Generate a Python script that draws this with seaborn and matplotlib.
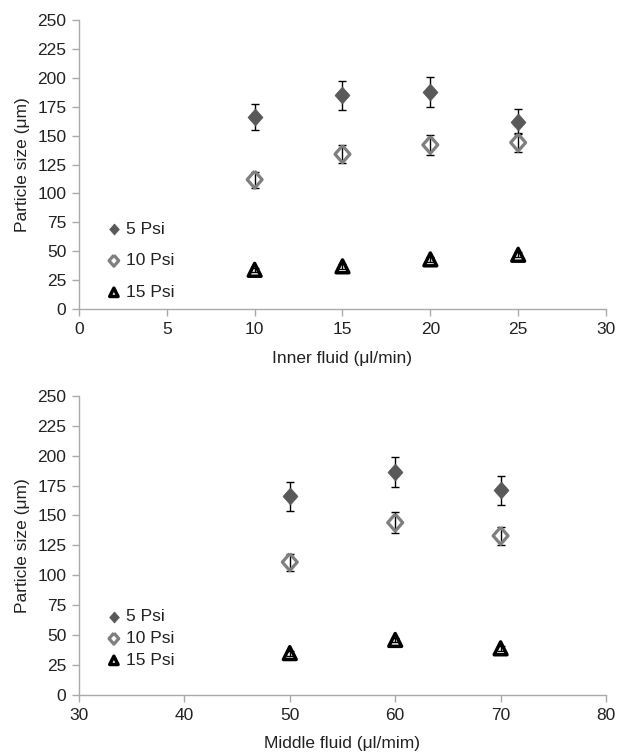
import matplotlib
matplotlib.use("Agg")
import matplotlib.pyplot as plt
import seaborn as sns
import numpy as np
import pandas as pd

# ---------------- data ----------------
inner_x = [10, 15, 20, 25]
inner_5psi = [166, 185, 188, 162]
inner_5psi_err = [11, 12.5, 13, 11]
inner_10psi = [112, 134, 142, 144]
inner_10psi_err = [7, 8, 8.5, 8]
inner_15psi = [34, 37, 43, 47]
inner_15psi_err = [2, 2, 2, 2]

middle_x = [50, 60, 70]
middle_5psi = [166, 186, 171]
middle_5psi_err = [12, 12.5, 12]
middle_10psi = [111, 144, 133]
middle_10psi_err = [7, 8.5, 7.5]
middle_15psi = [35, 46, 39]
middle_15psi_err = [2, 2, 2]

series_labels = ["5 Psi", "10 Psi", "15 Psi"]
y_ticks = [0, 25, 50, 75, 100, 125, 150, 175, 200, 225, 250]
top_xticks = [0, 5, 10, 15, 20, 25, 30]
bottom_xticks = [30, 40, 50, 60, 70, 80]

sns.set_theme(style="white")
plt.rcParams["font.family"] = ["Liberation Sans", "DejaVu Sans"]

fig = plt.figure(figsize=(6.19, 7.54), dpi=100)
ax1 = fig.add_axes([0.1276, 0.590, 0.8514, 0.3835])
ax2 = fig.add_axes([0.1276, 0.0782, 0.8514, 0.3970])

diamond = [(0, 1), (0.88, 0), (0, -1), (-0.88, 0), (0, 1)]

styles = [
    dict(marker=diamond, s=150, color="#595959", edgecolor="#595959", linewidth=0.5),
    dict(marker=diamond, s=150, facecolor="none", edgecolor="#7f7f7f", linewidth=2.3),
    dict(marker="^", s=85, facecolor="none", edgecolor="black", linewidth=2.5),
]

def draw(ax, xs, ys_list, errs_list, xticks, xlabel, labelspacing, legend_anchor):
    for lab, ys, errs, st in zip(series_labels, ys_list, errs_list, styles):
        df = pd.DataFrame({"x": xs, "y": ys})
        ax.errorbar(xs, ys, yerr=errs, fmt="none", ecolor="black",
                    elinewidth=1.0, capsize=3, capthick=1.0, zorder=2)
        sns.scatterplot(data=df, x="x", y="y", ax=ax, label=lab, zorder=3, **st)
    ax.set_xlim(xticks[0], xticks[-1])
    ax.set_ylim(0, 250)
    ax.set_xticks(xticks)
    ax.set_yticks(y_ticks)
    ax.set_xlabel(xlabel, fontsize=12.5, color="#222222", labelpad=10)
    ax.set_ylabel("Particle size (\u03bcm)", fontsize=12.5, color="#222222", labelpad=5)
    for sp in ["top", "right"]:
        ax.spines[sp].set_visible(False)
    for sp in ["left", "bottom"]:
        ax.spines[sp].set_color("#aaaaaa")
        ax.spines[sp].set_linewidth(1.0)
    ax.tick_params(axis="both", direction="out", length=5, width=1.0,
                   color="#aaaaaa", labelsize=12.5, labelcolor="#222222",
                   bottom=True, left=True, pad=4)
    leg = ax.legend(loc="lower left", bbox_to_anchor=legend_anchor, frameon=False,
                    fontsize=12.5, handlelength=0.8, handletextpad=0.3,
                    labelspacing=labelspacing, markerscale=0.65, borderpad=0.2)
    for t in leg.get_texts():
        t.set_color("#222222")

draw(ax1, inner_x, [inner_5psi, inner_10psi, inner_15psi],
     [inner_5psi_err, inner_10psi_err, inner_15psi_err],
     top_xticks, "Inner fluid (\u03bcl/min)", 0.95, (0.03, -0.01))
draw(ax2, middle_x, [middle_5psi, middle_10psi, middle_15psi],
     [middle_5psi_err, middle_10psi_err, middle_15psi_err],
     bottom_xticks, "Middle fluid (\u03bcl/mim)", 0.38, (0.03, 0.05))

fig.savefig("out.png", dpi=100, facecolor="white")
